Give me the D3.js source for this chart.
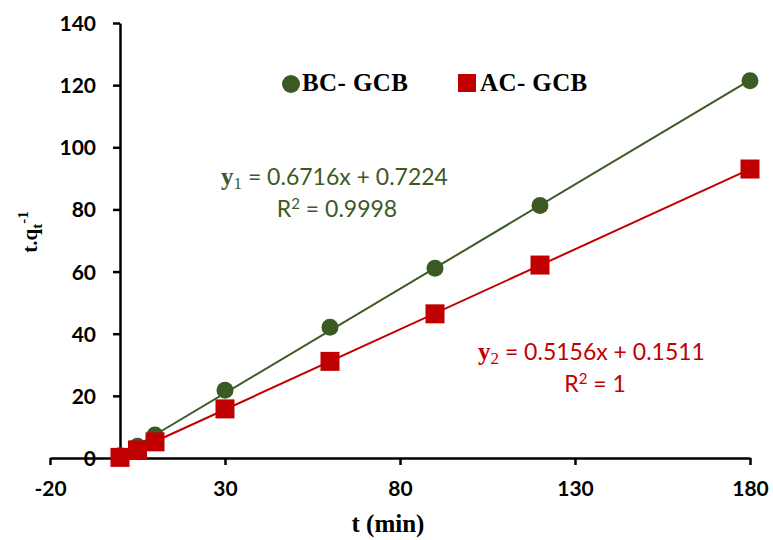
<!DOCTYPE html>
<html>
<head>
<meta charset="utf-8">
<script src="https://cdn.jsdelivr.net/npm/d3@7"></script>
<style>
  body { margin: 0; background: #fff; }
</style>
</head>
<body>
<script>
// time points (min)
const times = [0, 5, 10, 30, 60, 90, 120, 180];
// t/qt values
const bcValues = [0.7, 3.8, 7.4, 21.8, 42.1, 61.1, 81.3, 121.4];
const acValues = [0.2, 2.6, 5.2, 15.8, 31.1, 46.4, 62.1, 93.0];
// fitted lines
const bcFit = { slope: 0.6716, icpt: 0.7224 };
const acFit = { slope: 0.5156, icpt: 0.1511 };
const xTicks = [-20, 30, 80, 130, 180];
const yTicks = [0, 20, 40, 60, 80, 100, 120, 140];

const green = "#3c5a24";
const red = "#c00000";
const serif = "'Liberation Serif', 'Times New Roman', serif";
const sans = "Lato, 'Open Sans', sans-serif";

const svg = d3.select("body").append("svg")
    .attr("width", 773)
    .attr("height", 540);

const x = d3.scaleLinear().domain([-20, 180]).range([50, 750]);
const y = d3.scaleLinear().domain([0, 140]).range([458, 23]);

// axes
const xAxis = svg.append("g")
    .attr("transform", `translate(0,${y(0)})`)
    .call(d3.axisBottom(x).tickValues(xTicks).tickFormat(d => String(d))
        .tickSize(7).tickPadding(18).tickSizeOuter(0));
const yAxis = svg.append("g")
    .attr("transform", `translate(${x(0)},0)`)
    .call(d3.axisLeft(y).tickValues(yTicks).tickFormat(d => String(d))
        .tickSize(7).tickPadding(17).tickSizeOuter(0));

[xAxis, yAxis].forEach(g => {
    g.select(".domain").attr("stroke", "#000").attr("stroke-width", 2.5);
    g.selectAll(".tick line").attr("stroke", "#000").attr("stroke-width", 2.5);
    g.selectAll(".tick text")
        .attr("fill", "#000")
        .style("font-family", sans)
        .style("font-weight", "bold")
        .style("font-size", "21px");
});
xAxis.selectAll(".tick text").attr("dy", "0.6em");
yAxis.selectAll(".tick text").attr("dy", "0.36em");

// trend lines
const fitLine = f => d3.line()
    .x(d => x(d))
    .y(d => y(f.slope * d + f.icpt))([0, 180]);

svg.append("path").attr("d", fitLine(bcFit))
    .attr("stroke", green).attr("stroke-width", 2).attr("fill", "none");
svg.append("path").attr("d", fitLine(acFit))
    .attr("stroke", red).attr("stroke-width", 2).attr("fill", "none");

// markers
const bc = times.map((t, i) => [t, bcValues[i]]);
const ac = times.map((t, i) => [t, acValues[i]]);

svg.append("g").selectAll("circle")
    .data(bc).join("circle")
    .attr("cx", d => x(d[0]))
    .attr("cy", d => y(d[1]))
    .attr("r", 8.5)
    .attr("fill", green);

const sq = 19;
svg.append("g").selectAll("rect")
    .data(ac).join("rect")
    .attr("x", d => x(d[0]) - sq / 2)
    .attr("y", d => y(d[1]) - sq / 2)
    .attr("width", sq)
    .attr("height", sq)
    .attr("fill", red);

// legend
svg.append("circle").attr("cx", 291).attr("cy", 84).attr("r", 9).attr("fill", green);
svg.append("text").attr("x", 302).attr("y", 91)
    .style("font-family", serif).style("font-weight", "bold").style("font-size", "25px")
    .style("letter-spacing", "0.4px")
    .text("BC- GCB");
svg.append("rect").attr("x", 458).attr("y", 74).attr("width", 18).attr("height", 18).attr("fill", red);
svg.append("text").attr("x", 480).attr("y", 91)
    .style("font-family", serif).style("font-weight", "bold").style("font-size", "25px")
    .style("letter-spacing", "0.4px")
    .text("AC- GCB");

// equations
function equation(xPos, yPos, color, sub, rest, r2, r2x) {
    const t = svg.append("text").attr("x", xPos).attr("y", yPos)
        .attr("fill", color).style("font-size", "23px");
    t.append("tspan").style("font-family", serif).style("font-weight", "bold").style("font-size", "25px").text("y");
    t.append("tspan").style("font-family", serif).attr("dy", 4).style("font-size", "17px").text(sub);
    t.append("tspan").style("font-family", sans).attr("dy", -4).text(rest);
    const r = svg.append("text").attr("x", r2x).attr("y", yPos + 32)
        .attr("text-anchor", "middle")
        .attr("fill", color)
        .style("font-family", sans).style("font-size", "23px");
    r.append("tspan").text("R");
    r.append("tspan").attr("dy", -8).style("font-size", "15px").text("2");
    r.append("tspan").attr("dy", 8).text(r2);
}
equation(221, 185, green, "1", " = 0.6716x + 0.7224", " = 0.9998", 337);
equation(478, 360, red, "2", "  = 0.5156x + 0.1511", " = 1", 595);

// axis titles
svg.append("text").attr("x", 388).attr("y", 532)
    .attr("text-anchor", "middle")
    .style("font-family", serif).style("font-weight", "bold").style("font-size", "25px")
    .text("t (min)");

const yt = svg.append("text")
    .attr("transform", "translate(37,232) rotate(-90)")
    .attr("text-anchor", "middle")
    .style("font-family", serif).style("font-weight", "bold").style("font-size", "21px");
yt.append("tspan").text("t.q");
yt.append("tspan").attr("dy", 5).style("font-size", "15px").text("t");
yt.append("tspan").attr("dy", -14).style("font-size", "15px").text("-1");
</script>
</body>
</html>
